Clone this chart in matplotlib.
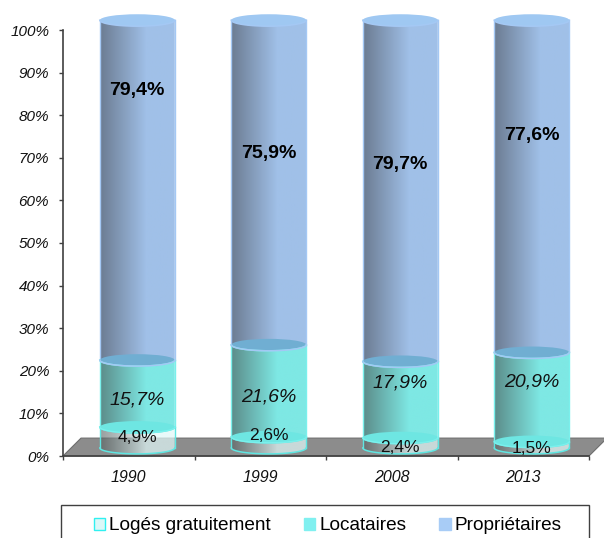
import numpy as np
import matplotlib
matplotlib.use('Agg')
import matplotlib.pyplot as plt
from matplotlib.patches import Ellipse, Polygon, Patch, Rectangle

plt.rcParams['font.family'] = ['Liberation Sans', 'DejaVu Sans']

# data
years = ['1990', '1999', '2008', '2013']
loges = [4.9, 2.6, 2.4, 1.5]
locataires = [15.7, 21.6, 17.9, 20.9]
proprietaires = [79.4, 75.9, 79.7, 77.6]

# where the labels sit
loges_label_y = [4.3, 4.8, 1.9, 1.7]
locataires_label_y = [13.1, 13.8, 17.1, 17.3]
proprietaires_label_y = [85.8, 71.0, 68.4, 75.2]

BAR_W = 0.57
SHIFT_X = 0.065     # fake 3d offset of the bars
SHIFT_Y = 1.9
CAP_H = 1.4
TOP_Y = 102.3


def gradient(left, right, alpha_l, alpha_r):
    t = np.clip(np.linspace(0, 1, 80) / 0.62, 0, 1)
    rgb = [(np.array(left) + (np.array(right) - np.array(left)) * v) / 255 for v in t]
    a = alpha_l + (alpha_r - alpha_l) * t
    return np.dstack([np.array(rgb)[None, :, :], a[None, :]])


def front_arc(x, y):
    th = np.linspace(np.pi, 2 * np.pi, 60)
    return x + BAR_W / 2 * np.cos(th), y + CAP_H * np.sin(th)


def draw_segment(ax, x, y0, y1, grad, edge, cap, z):
    xs, low = front_arc(x, y0)
    xs, high = front_arc(x, y1)
    pts = np.r_[np.c_[xs, low], np.c_[xs[::-1], high[::-1]]]
    extent = (x - BAR_W / 2, x + BAR_W / 2, y0 - CAP_H, y1 + CAP_H)
    im = ax.imshow(grad, extent=extent, aspect='auto', zorder=z, interpolation='bilinear')
    body = Polygon(pts, closed=True, fc='none', ec='none', transform=ax.transData)
    ax.add_patch(body)
    im.set_clip_path(body)
    im.set_clip_box(fig.bbox)   # the bars stick out above 100%
    # caps go over every body, the bars look see-through in the original
    ax.add_patch(Ellipse((x, y1), BAR_W, 2 * CAP_H, fc=cap, ec='none', zorder=5, clip_on=False))
    ax.plot(xs, low, color=edge, lw=1.1, zorder=5.1, clip_on=False)
    ax.plot(xs, high, color=edge, lw=1.1, zorder=5.1, clip_on=False)
    ax.plot([x - BAR_W / 2] * 2, [y0, y1], color=edge, lw=1, zorder=z + 0.1, clip_on=False)
    ax.plot([x + BAR_W / 2] * 2, [y0, y1], color=edge, lw=1, zorder=z + 0.1, clip_on=False)


fig = plt.figure(figsize=(6.04, 5.38), dpi=100)
ax = fig.add_axes([63 / 604, 82 / 538, 526 / 604, 426 / 538])

# floor
ax.add_patch(Polygon([(-0.5, 0), (3.5, 0), (3.637, 4.2), (-0.363, 4.2)], closed=True,
                     fc='#8c8c8c', ec='#6e6e6e', lw=0.8, zorder=1, clip_on=False))

grad_low = gradient((85, 95, 95), (225, 248, 248), 0.6, 0.72)
grad_mid = gradient((92, 140, 138), (126, 232, 228), 1, 1)
grad_top = gradient((108, 124, 146), (160, 192, 232), 1, 1)

for i in range(len(years)):
    x = i + SHIFT_X
    b1 = SHIFT_Y + loges[i]
    b2 = b1 + locataires[i]
    draw_segment(ax, x, SHIFT_Y, b1, grad_low, '#5fe6e2', '#6ee6e2', 2)
    draw_segment(ax, x, b1, b2, grad_mid, '#7af0ec', '#70aed2', 3)
    draw_segment(ax, x, b2, TOP_Y, grad_top, '#a4c8f4', '#9fc8f2', 4)
    ax.text(x, loges_label_y[i], f'{loges[i]:.1f}%'.replace('.', ','), ha='center', va='center',
            fontsize=12.5, color='#111111', zorder=6)
    ax.text(x, locataires_label_y[i], f'{locataires[i]:.1f}%'.replace('.', ','), ha='center', va='center',
            fontsize=14, style='italic', color='#111111', zorder=6)
    ax.text(x, proprietaires_label_y[i], f'{proprietaires[i]:.1f}%'.replace('.', ','), ha='center', va='center',
            fontsize=14, fontweight='bold', color='black', zorder=6)

# imshow resets the limits
ax.set_xlim(-0.5, 3.5)
ax.set_ylim(0, 100)

ax.spines['top'].set_visible(False)
ax.spines['right'].set_visible(False)
for s in ['left', 'bottom']:
    ax.spines[s].set_color('#404040')
    ax.spines[s].set_linewidth(1.2)
    ax.spines[s].set_zorder(1.5)

ax.set_yticks(np.arange(0, 101, 10))
ax.set_yticklabels([f'{v}%' for v in range(0, 101, 10)], fontsize=11, style='italic', color='#111111')
ax.set_xticks(np.arange(-0.5, 3.6, 1))
ax.set_xticklabels([])
ax.set_xticks(np.arange(4), labels=years, minor=True)
ax.tick_params(axis='x', which='minor', length=0, pad=10, labelsize=11.5)
for lab in ax.get_xticklabels(minor=True):
    lab.set_style('italic')
    lab.set_color('#111111')
ax.tick_params(axis='both', which='major', length=3, width=1, color='#404040')
ax.tick_params(axis='y', pad=7)

# legend, the box runs off the bottom of the picture
fig.add_artist(Rectangle((61 / 604, -5 / 538), 528 / 604, 38 / 538, transform=fig.transFigure,
                         fc='white', ec='#404040', lw=1))
handles = [Patch(fc='#dcf8f8', ec='#30f0f0', lw=1),
           Patch(fc='#80f0f0', ec='#80f0f0', lw=1),
           Patch(fc='#a8ccf6', ec='#a8ccf6', lw=1)]
fig.legend(handles, ['Logés gratuitement', 'Locataires', 'Propriétaires'], ncols=3,
           loc='center left', bbox_to_anchor=(94 / 604, 12 / 538), frameon=False, fontsize=13.7,
           borderpad=0, borderaxespad=0, handlelength=0.6, handleheight=0.6,
           handletextpad=0.2, columnspacing=1.745)

fig.savefig('out.png', dpi=100)
